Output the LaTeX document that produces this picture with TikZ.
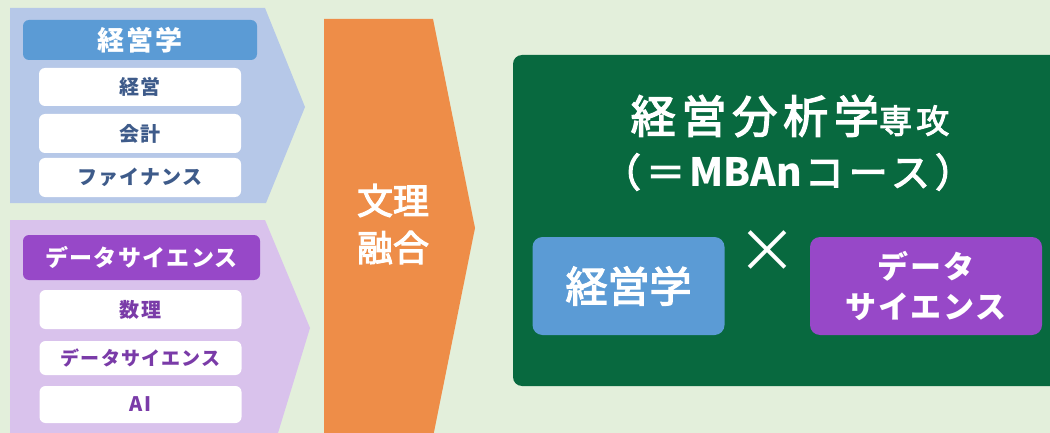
\documentclass[tikz,border=0pt]{standalone}
\usepackage{fontspec}
\setmainfont{Noto Sans CJK JP}
\newfontfamily\jp[UprightFeatures={FakeBold=3}]{Noto Sans CJK JP}
\newfontfamily\jpls[LetterSpace=6]{Noto Sans CJK JP}
\newfontfamily\jptitle[LetterSpace=13,UprightFeatures={FakeBold=3}]{Noto Sans CJK JP}
\newfontfamily\jpthin{Noto Sans CJK JP}
\definecolor{bgc}{HTML}{E3EFDB}
\definecolor{chevblue}{HTML}{B6C8E8}
\definecolor{chevpurple}{HTML}{D9C2EC}
\definecolor{orangec}{HTML}{EE8D48}
\definecolor{greenc}{HTML}{08693F}
\definecolor{bluec}{HTML}{5B9BD5}
\definecolor{purplec}{HTML}{9748C8}
\definecolor{bluetxt}{HTML}{3E5B8A}
\definecolor{purpletxt}{HTML}{7A3BA8}
\tikzset{
  head/.style={rounded corners=6pt, inner sep=0pt, text=white, font=\jpls\bfseries\fontsize{27}{30}\selectfont},
  item/.style={fill=white, rounded corners=6pt, inner sep=0pt, minimum width=202pt, font=\jpls\bfseries\fontsize{20}{24}\selectfont},
  inbox/.style={rounded corners=10pt, inner sep=0pt, text=white, align=center, minimum height=98pt}
}
\begin{document}
\begin{tikzpicture}[x=1pt,y=-1pt]
\useasboundingbox (0,0) rectangle (1050,433);
\clip (0,0) rectangle (1050,433);
\fill[bgc] (0,0) rectangle (1050,433);
% chevrons
\fill[chevblue] (10,8) -- (265,8) -- (305,107) -- (266,203) -- (10,203) -- cycle;
\fill[chevpurple] (10,220) -- (265,220) -- (310,328) -- (278,433) -- (272,460) -- (10,460) -- cycle;
\fill[orangec] (324,19) -- (433,19) -- (475,228) -- (433,437) -- (324,437) -- cycle;
% green box
\fill[greenc, rounded corners=9pt] (513,55) rectangle (1080,386);
% left blue column
\node[head, fill=bluec, minimum width=234pt, minimum height=40pt] (h1) at (140,40) {経営学};
\node[item, text=bluetxt, minimum height=38pt] (i1) at (140,87) {経営};
\node[item, text=bluetxt, minimum height=39pt] (i2) at (140,133.5) {会計};
\node[item, text=bluetxt, minimum height=39pt] (i3) at (140,177.5) {ファイナンス};
% left purple column
\node[head, fill=purplec, minimum width=237pt, minimum height=45pt, font=\jpls\bfseries\fontsize{23}{26}\selectfont] (h2) at (141.5,257.5) {データサイエンス};
\node[item, text=purpletxt, minimum height=39pt] (j1) at (140.5,309.5) {数理};
\node[item, text=purpletxt, minimum height=34pt, font=\jpls\bfseries\fontsize{19}{22}\selectfont] (j2) at (140.5,358) {データサイエンス};
\node[item, text=purpletxt, minimum height=37pt] (j3) at (140.5,404.5) {AI};
% orange label
\node[text=white, align=center, font=\jp\fontsize{36}{47}\selectfont] (fr) at (393,224) {文理\\融合};
% title
\node[text=white, font=\jptitle\fontsize{45}{50}\selectfont] (t1) at (790,116) {経営分析学{\fontsize{33}{36}\selectfont 専攻}};
\node[text=white, font=\jptitle\fontsize{39}{44}\selectfont] (t2) at (788,172) {（＝\hspace{4pt}{\jp\bfseries MBAn}\hspace{3pt}コース）};
% inner boxes
\node[inbox, fill=bluec, minimum width=192pt, font=\jp\fontsize{42}{48}\selectfont] (b1) at (628.5,286) {経営学};
\node[text=white, font=\jpthin\fontsize{60}{60}\selectfont] (x) at (767,252) {×};
\node[inbox, fill=purplec, minimum width=232pt, font=\jpls\bfseries\fontsize{31}{40}\selectfont] (b2) at (926,286) {データ\\サイエンス};
\end{tikzpicture}
\end{document}
